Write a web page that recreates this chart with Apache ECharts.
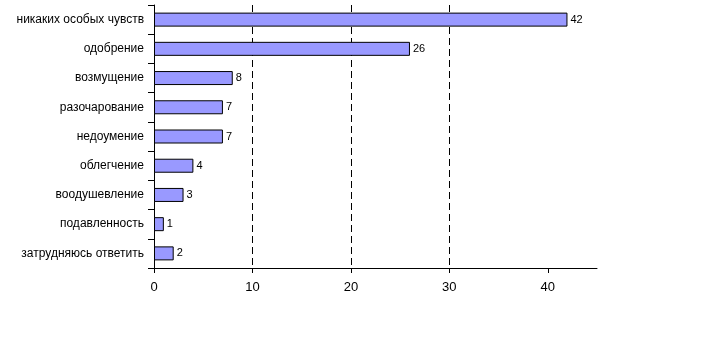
<!DOCTYPE html>
<html><head><meta charset="utf-8">
<script src="https://cdn.jsdelivr.net/npm/echarts@6/dist/echarts.min.js"></script>
<style>html,body{margin:0;padding:0;background:#fff}#c{width:710px;height:363px}</style>
</head><body><div id="c"></div>
<script>
const categories = ["никаких особых чувств","одобрение","возмущение","разочарование","недоумение","облегчение","воодушевление","подавленность","затрудняюсь ответить"];
const values = [42,26,8,7,7,4,3,1,2];
const xTicks = [0,10,20,30,40];

const chart = echarts.init(document.getElementById('c'));
chart.setOption({
  animation:false,
  grid:{left:154,right:113,top:5,bottom:95,containLabel:false},
  xAxis:{type:'value',min:0,max:45,interval:10,
    axisLine:{show:true,lineStyle:{color:'#000',width:1}},
    axisTick:{show:true,length:5,lineStyle:{color:'#000'},customValues:xTicks},
    axisLabel:{color:'#000',fontFamily:'Liberation Sans',fontSize:13,margin:13,customValues:xTicks},
    splitLine:{show:true,showMinLine:false,showMaxLine:false,lineStyle:{color:'#000',type:[7,4],width:1}}
  },
  yAxis:{type:'category',data:categories,inverse:true,
    axisLine:{show:true,lineStyle:{color:'#000',width:1}},
    axisTick:{show:true,length:6,lineStyle:{color:'#000'}},
    axisLabel:{color:'#000',fontFamily:'Liberation Sans',fontSize:12,margin:10},
    splitLine:{show:false}
  },
  series:[{type:'bar',data:values,barWidth:14,
    itemStyle:{color:'#9999FF',borderColor:'#000',borderWidth:1},
    label:{show:true,position:'right',distance:3,color:'#000',fontFamily:'Liberation Sans',fontSize:11}
  }]
});
</script></body></html>
